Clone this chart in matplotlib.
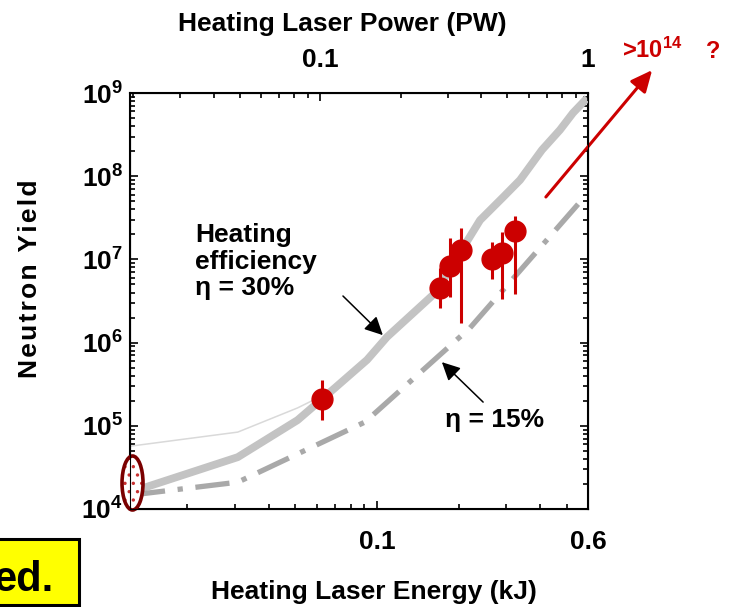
import matplotlib
matplotlib.use("Agg")
import matplotlib.pyplot as plt
import numpy as np
from matplotlib.patches import Ellipse, Rectangle
from matplotlib.ticker import FixedLocator, FixedFormatter, NullFormatter

plt.rcParams['font.family'] = ['Liberation Sans', 'DejaVu Sans']
plt.rcParams['font.weight'] = 'bold'
plt.rcParams['mathtext.fontset'] = 'custom'
plt.rcParams['mathtext.rm'] = 'Liberation Sans:bold'
plt.rcParams['mathtext.bf'] = 'Liberation Sans:bold'
plt.rcParams['mathtext.it'] = 'Liberation Sans:bold'
plt.rcParams['hatch.linewidth'] = 1.2

# heating efficiency 30% curve (kJ, neutrons)
eta30_energy = [0.0124, 0.0307, 0.051, 0.070, 0.092, 0.109, 0.164, 0.240,
                0.292, 0.337, 0.406, 0.473, 0.528, 0.596]
eta30_yield = [1.6e4, 4.2e4, 1.17e5, 2.85e5, 6.2e5, 1.17e6, 3.95e6, 2.96e7,
               5.6e7, 9.0e7, 2.07e8, 3.6e8, 5.75e8, 8.7e8]

# thin line at low energy
thin_energy = [0.0124, 0.0307, 0.051, 0.0575]
thin_yield = [5.7e4, 8.4e4, 1.64e5, 1.99e5]

# heating efficiency 15% curve
eta15_energy = [0.0124, 0.0307, 0.0904, 0.2203, 0.592]
eta15_yield = [1.47e4, 2.1e4, 1.11e5, 1.5e6, 6.0e7]

# measured shots
shot_energy = [0.0627, 0.1708, 0.186, 0.204, 0.266, 0.289, 0.323]
shot_yield = [2.1e5, 4.53e6, 8.3e6, 1.3e7, 1.01e7, 1.19e7, 2.19e7]
shot_hi = [3.55e5, 7.9e6, 1.8e7, 2.4e7, 1.62e7, 2.14e7, 3.33e7]
shot_lo = [1.17e5, 2.6e6, 3.5e6, 1.72e6, 5.8e6, 3.35e6, 3.84e6]

energy_ticks = [0.1, 0.6]
energy_labels = ['0.1', '0.6']
power_ticks = [0.1, 1.0]
power_labels = ['0.1', '1']

RED = '#cc0000'
FS = 19

fig = plt.figure(figsize=(7.34, 6.07), dpi=100)
ax = fig.add_axes([130 / 734, 1 - 509 / 607, 458 / 734, 416 / 607])

ax.plot(thin_energy, thin_yield, color='#d9d9d9', lw=1.1, zorder=2)
ax.plot(eta30_energy, eta30_yield, color='#c3c3c3', lw=5.6, zorder=3,
        solid_joinstyle='round', solid_capstyle='butt')
ax.plot(eta15_energy, eta15_yield, color='#a9a9a9', lw=3.8, zorder=3,
        linestyle=(0, (6.5, 2.4, 1.0, 2.4)), dash_capstyle='butt')

yerr = [np.array(shot_yield) - np.array(shot_lo), np.array(shot_hi) - np.array(shot_yield)]
ax.errorbar(shot_energy, shot_yield, yerr=yerr, fmt='o', color=RED, ms=15,
            elinewidth=2.2, capsize=0, zorder=5)

ax.set_xscale('log')
ax.set_yscale('log')
ax.set_xlim(0.0123, 0.6)
ax.set_ylim(1e4, 1e9)
ax.xaxis.set_major_locator(FixedLocator(energy_ticks))
ax.xaxis.set_major_formatter(FixedFormatter(energy_labels))
ax.xaxis.set_minor_formatter(NullFormatter())
ax.tick_params(which='both', direction='in', right=True, top=False, width=1.2,
               labelsize=FS, pad=15)
ax.tick_params(which='major', length=6)
ax.tick_params(which='minor', length=3.5)
ax.tick_params(axis='y', pad=5)
for s in ax.spines.values():
    s.set_linewidth(1.5)

ax2 = ax.twiny()
ax2.set_xscale('log')
ax2.set_xlim(0.0195, 1.0)
ax2.xaxis.set_major_locator(FixedLocator(power_ticks))
ax2.xaxis.set_major_formatter(FixedFormatter(power_labels))
ax2.xaxis.set_minor_formatter(NullFormatter())
ax2.tick_params(which='both', direction='in', width=1.2, labelsize=FS, pad=15)
ax2.tick_params(which='major', length=6)
ax2.tick_params(which='minor', length=3.5)

fig.text(342 / 734, 1 - 31 / 607, 'Heating Laser Power (PW)', ha='center',
         va='baseline', fontsize=FS)
fig.text(374 / 734, 1 - 599 / 607, 'Heating Laser Energy (kJ)', ha='center',
         va='baseline', fontsize=FS)
fig.text(30 / 734, 1 - 279 / 607, '\u200a'.join('Neutron Yield'), rotation=90,
         ha='center', va='center', fontsize=FS)

# target marker on the left edge
ax.add_patch(Ellipse((0.0055, 0.0625), 21 / 458, 54 / 416, transform=ax.transAxes,
                     facecolor='white', edgecolor='#c83232', hatch='..', lw=0,
                     clip_on=False, zorder=6))
ax.add_patch(Ellipse((0.0055, 0.0625), 21 / 458, 54 / 416, transform=ax.transAxes,
                     fill=False, edgecolor='#7a0000', lw=2.6, clip_on=False, zorder=7))

ax.text(0.142, 0.688, 'Heating\nefficiency\n\u03b7 = 30%', transform=ax.transAxes,
        ha='left', va='top', fontsize=FS, linespacing=1.15)
ax.text(0.688, 0.197, '\u03b7 = 15%', transform=ax.transAxes, ha='left',
        va='baseline', fontsize=FS)

ax.annotate('', xy=(0.552, 0.418), xytext=(0.465, 0.512), xycoords='axes fraction',
            arrowprops=dict(arrowstyle='-|>,head_length=1.1,head_width=0.55',
                            color='black', lw=1.1, shrinkA=0, shrinkB=0))
ax.annotate('', xy=(0.681, 0.353), xytext=(0.771, 0.257), xycoords='axes fraction',
            arrowprops=dict(arrowstyle='-|>,head_length=1.1,head_width=0.55',
                            color='black', lw=1.1, shrinkA=0, shrinkB=0))
ax.annotate('', xy=(1.140, 1.055), xytext=(0.908, 0.750), xycoords='axes fraction',
            arrowprops=dict(arrowstyle='-|>,head_length=1.3,head_width=0.6',
                            color=RED, lw=2.2, shrinkA=0, shrinkB=0),
            annotation_clip=False)
ax.text(1.074, 1.084, r'>10$^{14}$', transform=ax.transAxes, ha='left',
        va='baseline', fontsize=17, color=RED)
ax.text(1.258, 1.084, '?', transform=ax.transAxes, ha='left',
        va='baseline', fontsize=17, color=RED)

# yellow note box at the lower left corner
fig.patches.append(Rectangle((-5 / 734, 1 - 605 / 607), 84 / 734, 66 / 607,
                             transform=fig.transFigure, facecolor='#ffff00',
                             edgecolor='black', lw=2.2, figure=fig))
fig.text(54 / 734, 1 - 591 / 607, 'ed.', ha='right', va='baseline', fontsize=30)

fig.savefig('out.png', dpi=100)
